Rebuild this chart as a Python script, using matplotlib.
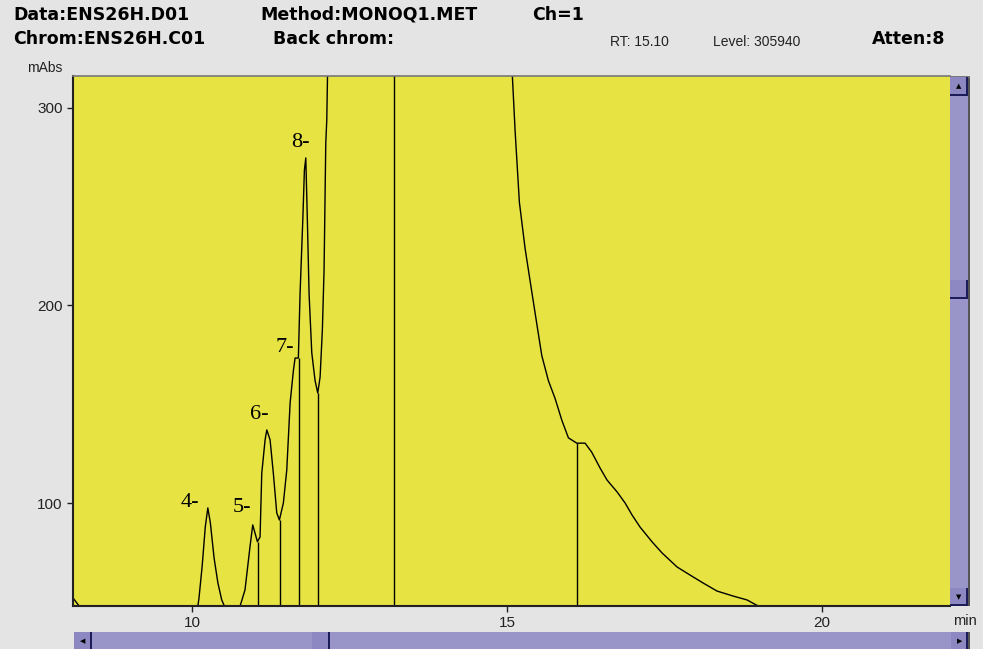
import matplotlib
matplotlib.use("Agg")
import matplotlib.pyplot as plt
from matplotlib.patches import Rectangle

# chromatogram trace (min, mAbs)
time = [8.12, 8.24, 9.0, 10.05, 10.08, 10.11, 10.16, 10.21, 10.25, 10.29,
        10.35, 10.41, 10.47, 10.55, 10.68, 10.762, 10.84, 10.92, 10.963, 11.037, 11.079,
        11.106, 11.159, 11.186, 11.238, 11.290, 11.344, 11.386, 11.449, 11.503, 11.556,
        11.608, 11.635, 11.687, 11.714, 11.757, 11.783, 11.805, 11.830, 11.857, 11.900,
        11.952, 11.995, 12.032, 12.068, 12.095, 12.122, 12.138, 12.3, 13.2, 14.9,
        15.084, 15.127, 15.195, 15.286, 15.365, 15.471, 15.551, 15.656, 15.762, 15.868,
        15.973, 16.106, 16.238, 16.344, 16.476, 16.587, 16.746, 16.873, 16.984, 17.111,
        17.302, 17.46, 17.698, 17.905, 18.111, 18.333, 18.587, 18.81, 18.952, 19.1,
        20.0, 22.1]
absorb = [51.5, 46.5, 42, 42, 45, 52, 68, 88, 97.5, 90,
          72, 59.5, 51, 45, 43, 47.8, 56, 78, 88.9, 80.4, 82.8,
          115, 132, 137, 132, 115, 95, 91.4, 100, 116.7, 150.6,
          167, 173.4, 173.4, 206, 243, 268.6, 274.7, 243, 206, 176,
          162, 155.7, 163.8, 187.6, 218, 282, 294, 600, 1500, 600,
          316, 288.5, 252.3, 228.8, 212.5, 190.8, 174.6, 161.9, 152.9, 142.0,
          133.0, 130.3, 130.3, 125.7, 117.7, 111.6, 105.6, 100, 93.9, 87.8,
          80.3, 74.7, 67.6, 63.5, 59.5, 55.4, 52.9, 50.9, 48.4, 46.5,
          44, 44]

# peak drop lines
drop_x = [11.04, 11.39, 11.69, 12.0, 13.21, 16.11]
drop_top = [80.4, 91.4, 173.4, 155.7, 1500, 130.3]

# peak labels
peak_labels = ["4-", "5-", "6-", "7-", "8-"]
label_x = [10.11, 10.94, 11.21, 11.62, 11.86]
label_y = [100.5, 97.5, 144.6, 178.5, 282.3]

x_ticks = [10, 15, 20]
y_ticks = [100, 200, 300]

W, H = 983, 649
GRAY = "#e4e4e4"
YELLOW = "#e6e343"
PURPLE = "#9a95c9"
BTN = "#8e88c2"
NAVY = "#1c1c5a"


def box(x0, y0, x1, y1):
    return [x0 / W, 1 - y1 / H, (x1 - x0) / W, (y1 - y0) / H]


def rect(x0, y0, x1, y1, color, z=2):
    fig.add_artist(Rectangle((x0 / W, 1 - y1 / H), (x1 - x0) / W, (y1 - y0) / H,
                             transform=fig.transFigure, facecolor=color,
                             edgecolor="none", zorder=z))


def button(x0, y0, x1, y1, arrow):
    rect(x0, y0, x1, y1, BTN, 3)
    rect(x1 - 2, y0, x1, y1, NAVY, 4)
    rect(x0, y1 - 2, x1, y1, NAVY, 4)
    if arrow:
        fig.text((x0 + x1) / 2 / W, 1 - (y0 + y1) / 2 / H, arrow, fontsize=5,
                 ha="center", va="center", color="black", zorder=5)


def px_text(x, y, s, **kw):
    fig.text(x / W, 1 - y / H, s, **kw)


fig = plt.figure(figsize=(W / 100, H / 100), dpi=100, facecolor=GRAY)
ax = fig.add_axes(box(73, 76, 950, 606), facecolor=YELLOW)

ax.plot(time, absorb, color="black", lw=1.0)
ax.vlines(drop_x, 0, drop_top, color="black", lw=1.0)
for lab, lx, ly in zip(peak_labels, label_x, label_y):
    ax.text(lx, ly, lab, ha="right", va="center", fontsize=16,
            family="Liberation Serif", color="black")

ax.set_xlim(8.11, 22.03)
ax.set_ylim(47.85, 316.2)
ax.set_xticks(x_ticks)
ax.set_yticks(y_ticks)
ax.tick_params(direction="out", length=4.5, width=1, color="#222", pad=3,
               labelsize=11, labelcolor="#222")
for t in ax.get_xticklabels() + ax.get_yticklabels():
    t.set_family("Liberation Sans")
for s in ("left", "bottom"):
    ax.spines[s].set_linewidth(1.5)
    ax.spines[s].set_color("#222")
ax.spines["top"].set_color("#777")
ax.spines["top"].set_linewidth(1.2)
ax.spines["right"].set_visible(False)

# header
hdr = dict(fontsize=12.5, fontweight="bold", family="DejaVu Sans",
           va="baseline", color="black")
px_text(13, 20, "Data:ENS26H.D01", **hdr)
px_text(260, 20, "Method:MONOQ1.MET", **hdr)
px_text(532, 20, "Ch=1", **hdr)
px_text(13, 44, "Chrom:ENS26H.C01", **hdr)
px_text(273, 44, "Back chrom:", **hdr)
px_text(872, 44, "Atten:8", **hdr)
small = dict(fontsize=10, family="Liberation Sans", va="baseline", color="#222")
px_text(610, 46, "RT: 15.10", **small)
px_text(713, 46, "Level: 305940", **small)
px_text(45, 68, "mAbs", ha="center", va="center", fontsize=10,
        family="Liberation Sans", color="#222")
px_text(965, 621, "min", ha="center", va="center", fontsize=10.5,
        family="Liberation Sans", color="#222")

# right scrollbar
rect(950, 77, 968, 606, PURPLE)
rect(968, 76, 970, 606, "#555")
button(950, 77, 968, 96, "▲")
button(950, 280, 968, 299, "")
button(950, 588, 968, 606, "▼")
rect(950, 76, 970, 77.5, "#777")

# bottom scrollbar
rect(74, 632, 968, 649, PURPLE)
rect(968, 632, 970, 649, "#555")
button(74, 632, 92, 651, "◀")
button(312, 632, 330, 651, "")
button(951, 632, 968, 651, "▶")

fig.savefig("out.png", dpi=100, facecolor=GRAY)
